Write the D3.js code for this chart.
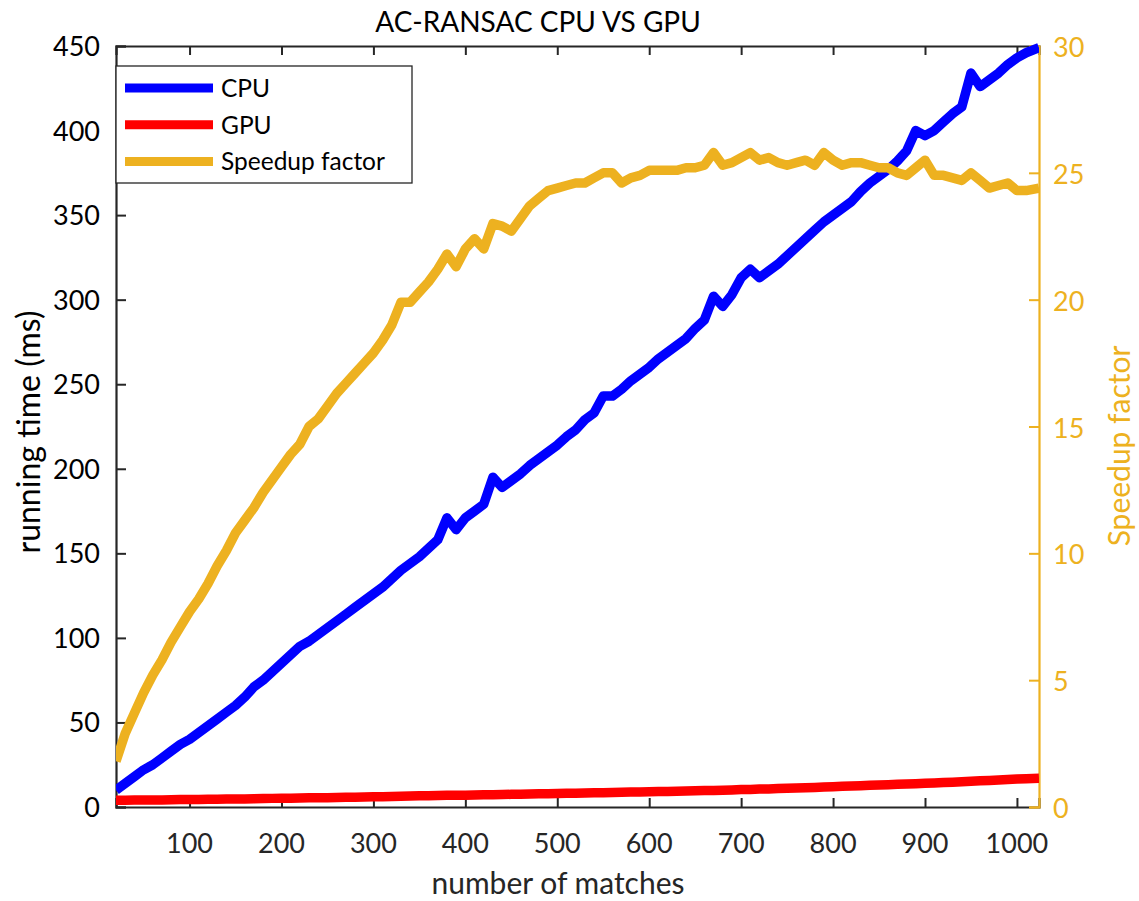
<!DOCTYPE html>
<html>
<head>
<meta charset="utf-8">
<script src="https://cdn.jsdelivr.net/npm/d3@7"></script>
<style>
  body { margin: 0; background: #fff; }
  text { font-family: Lato, "Open Sans", sans-serif; }
</style>
</head>
<body>
<script>
var width = 1139;
var height = 901;
var plotLeft = 116, plotRight = 1039, plotTop = 46, plotBottom = 807;

// number of matches
var matches = [20, 30, 40, 50, 60, 70, 80, 90, 100, 110, 120, 130, 140, 150, 160, 170, 180, 190, 200,
    210, 220, 230, 240, 250, 260, 270, 280, 290, 300, 310, 320, 330, 340, 350, 360, 370, 380, 390, 400,
    410, 420, 430, 440, 450, 460, 470, 480, 490, 500, 510, 520, 530, 540, 550, 560, 570, 580, 590, 600,
    610, 620, 630, 640, 650, 660, 670, 680, 690, 700, 710, 720, 730, 740, 750, 760, 770, 780, 790, 800,
    810, 820, 830, 840, 850, 860, 870, 880, 890, 900, 910, 920, 930, 940, 950, 960, 970, 980, 990, 1000,
    1010, 1024];

// running time (ms)
var cpu = [10, 14, 18, 22, 25, 29, 33, 37, 40, 44, 48, 52, 56, 60, 65, 71, 75, 80, 85,
    90, 95, 98, 102, 106, 110, 114, 118, 122, 126, 130, 135, 140, 144, 148, 153, 158, 171, 164, 171,
    175, 179, 195, 189, 193, 197, 202, 206, 210, 214, 219, 223, 229, 233, 243, 243, 247, 252, 256, 260,
    265, 269, 273, 277, 283, 288, 302, 296, 303, 313, 318, 313, 317, 321, 326, 331, 336, 341, 346, 350,
    354, 358, 364, 369, 373, 377, 382, 388, 400, 397, 400, 405, 410, 414, 434, 426, 430, 434, 439, 443,
    446, 449];

var gpu = [4.0, 4.0, 4.1, 4.1, 4.2, 4.2, 4.3, 4.4, 4.5, 4.5, 4.6, 4.6, 4.7, 4.8, 4.8, 4.9, 5.0, 5.1, 5.2,
    5.2, 5.3, 5.4, 5.4, 5.5, 5.6, 5.7, 5.8, 5.9, 6.0, 6.1, 6.2, 6.4, 6.5, 6.6, 6.7, 6.8, 6.9, 7.0, 7.0,
    7.1, 7.2, 7.3, 7.4, 7.5, 7.6, 7.7, 7.8, 7.9, 8.0, 8.1, 8.2, 8.3, 8.4, 8.5, 8.6, 8.7, 8.8, 8.9, 9.0,
    9.1, 9.2, 9.3, 9.4, 9.6, 9.7, 9.8, 9.9, 10.1, 10.3, 10.4, 10.6, 10.7, 10.9, 11.1, 11.2, 11.4, 11.6, 11.8, 12.0,
    12.2, 12.4, 12.6, 12.8, 13.0, 13.2, 13.4, 13.6, 13.8, 14.0, 14.2, 14.5, 14.7, 15.0, 15.2, 15.5, 15.7, 16.0, 16.2, 16.5,
    16.7, 17.0];

// speedup factor (right axis)
var speedup = [1.8, 2.9, 3.7, 4.5, 5.2, 5.8, 6.5, 7.1, 7.7, 8.2, 8.8, 9.5, 10.1, 10.8, 11.3, 11.8, 12.4, 12.9, 13.4,
    13.9, 14.3, 15.0, 15.3, 15.8, 16.3, 16.7, 17.1, 17.5, 17.9, 18.4, 19.0, 19.9, 19.9, 20.3, 20.7, 21.2, 21.8, 21.3, 22.0,
    22.4, 22.0, 23.0, 22.9, 22.7, 23.2, 23.7, 24.0, 24.3, 24.4, 24.5, 24.6, 24.6, 24.8, 25.0, 25.0, 24.6, 24.8, 24.9, 25.1,
    25.1, 25.1, 25.1, 25.2, 25.2, 25.3, 25.8, 25.3, 25.4, 25.6, 25.8, 25.5, 25.6, 25.4, 25.3, 25.4, 25.5, 25.3, 25.8, 25.5,
    25.3, 25.4, 25.4, 25.3, 25.2, 25.2, 25.0, 24.9, 25.2, 25.5, 24.9, 24.9, 24.8, 24.7, 25.0, 24.7, 24.4, 24.5, 24.6, 24.3,
    24.3, 24.4];

var xTicks = [100, 200, 300, 400, 500, 600, 700, 800, 900, 1000];
var yTicks = [0, 50, 100, 150, 200, 250, 300, 350, 400, 450];
var y2Ticks = [0, 5, 10, 15, 20, 25, 30];

var seriesNames = ["CPU", "GPU", "Speedup factor"];
var seriesColors = ["#0000ff", "#ff0000", "#edb120"];

var ink = "#262626";
var orange = "#edb120";

var x = d3.scaleLinear().domain([20, 1024]).range([plotLeft, plotRight]);
var y = d3.scaleLinear().domain([0, 450]).range([plotBottom, plotTop]);
var y2 = d3.scaleLinear().domain([0, 30]).range([plotBottom, plotTop]);

var svg = d3.select("body").append("svg")
    .attr("width", width)
    .attr("height", height)
    .attr("viewBox", "0 0 " + width + " " + height);

svg.append("clipPath").attr("id", "plot")
    .append("rect")
    .attr("x", plotLeft).attr("y", plotTop - 4)
    .attr("width", plotRight - plotLeft).attr("height", plotBottom - plotTop + 4);

// axes: bottom (ticks up), top (ticks down), left (ticks right), right orange (ticks left)
var xAxis = svg.append("g")
    .attr("transform", "translate(0," + plotBottom + ")")
    .call(d3.axisTop(x).tickValues(xTicks).tickSize(9).tickFormat(""));
svg.append("g")
    .selectAll("text")
    .data(xTicks)
    .join("text")
    .attr("x", function(d) { return x(d); })
    .attr("y", plotBottom + 46)
    .attr("text-anchor", "middle")
    .attr("font-size", 27)
    .attr("fill", ink)
    .text(function(d) { return d; });

var topAxis = svg.append("g")
    .attr("transform", "translate(0," + plotTop + ")")
    .call(d3.axisBottom(x).tickValues(xTicks).tickSize(9).tickFormat(""));

var yAxis = svg.append("g")
    .attr("transform", "translate(" + plotLeft + ",0)")
    .call(d3.axisRight(y).tickValues(yTicks).tickSize(10).tickFormat(""));
svg.append("g")
    .selectAll("text")
    .data(yTicks)
    .join("text")
    .attr("x", plotLeft - 16)
    .attr("y", function(d) { return y(d) + 10; })
    .attr("text-anchor", "end")
    .attr("font-size", 27)
    .attr("fill", "#000")
    .text(function(d) { return d; });

var y2Axis = svg.append("g")
    .attr("transform", "translate(" + plotRight + ",0)")
    .call(d3.axisLeft(y2).tickValues(y2Ticks).tickSize(10).tickFormat(""));
svg.append("g")
    .selectAll("text")
    .data(y2Ticks)
    .join("text")
    .attr("x", plotRight + 14)
    .attr("y", function(d) { return y2(d) + 11; })
    .attr("font-size", 27)
    .attr("fill", orange)
    .text(function(d) { return d; });

[xAxis, topAxis, yAxis].forEach(function(g) {
    g.select(".domain").attr("stroke", ink).attr("stroke-width", 2.2);
    g.selectAll(".tick line").attr("stroke", ink).attr("stroke-width", 2);
});
y2Axis.select(".domain").attr("stroke", orange).attr("stroke-width", 2.2);
y2Axis.selectAll(".tick line").attr("stroke", orange).attr("stroke-width", 2);

// data lines
var lineLeft = d3.line()
    .x(function(d, i) { return x(matches[i]); })
    .y(function(d) { return y(d); });
var lineRight = d3.line()
    .x(function(d, i) { return x(matches[i]); })
    .y(function(d) { return y2(d); });

var lines = svg.append("g").attr("clip-path", "url(#plot)")
    .attr("fill", "none")
    .attr("stroke-width", 9.5)
    .attr("stroke-linejoin", "round");

lines.append("path").attr("d", lineLeft(gpu)).attr("stroke", seriesColors[1]);
lines.append("path").attr("d", lineLeft(cpu)).attr("stroke", seriesColors[0]);
lines.append("path").attr("d", lineRight(speedup)).attr("stroke", seriesColors[2]);

// legend
var legend = svg.append("g");
legend.append("rect")
    .attr("x", plotLeft).attr("y", 66)
    .attr("width", 296).attr("height", 117)
    .attr("fill", "#fff")
    .attr("stroke", ink)
    .attr("stroke-width", 1.3);
seriesNames.forEach(function(name, i) {
    var ly = 88 + i * 36.7;
    legend.append("line")
        .attr("x1", 125).attr("x2", 213)
        .attr("y1", ly).attr("y2", ly)
        .attr("stroke", seriesColors[i])
        .attr("stroke-width", 9);
    legend.append("text")
        .attr("x", 221).attr("y", ly + 9)
        .attr("font-size", 24.5)
        .attr("fill", "#000")
        .text(name);
});

// titles
svg.append("text")
    .attr("x", 538).attr("y", 32)
    .attr("text-anchor", "middle")
    .attr("font-size", 28)
    .attr("fill", "#000")
    .text("AC-RANSAC CPU VS GPU");

svg.append("text")
    .attr("x", 558).attr("y", 894)
    .attr("text-anchor", "middle")
    .attr("font-size", 30)
    .attr("fill", ink)
    .text("number of matches");

svg.append("text")
    .attr("transform", "translate(40,432) rotate(-90)")
    .attr("text-anchor", "middle")
    .attr("font-size", 32)
    .attr("fill", "#000")
    .text("running time (ms)");

svg.append("text")
    .attr("transform", "translate(1130,446) rotate(-90)")
    .attr("text-anchor", "middle")
    .attr("font-size", 30)
    .attr("fill", orange)
    .text("Speedup factor");
</script>
</body>
</html>
